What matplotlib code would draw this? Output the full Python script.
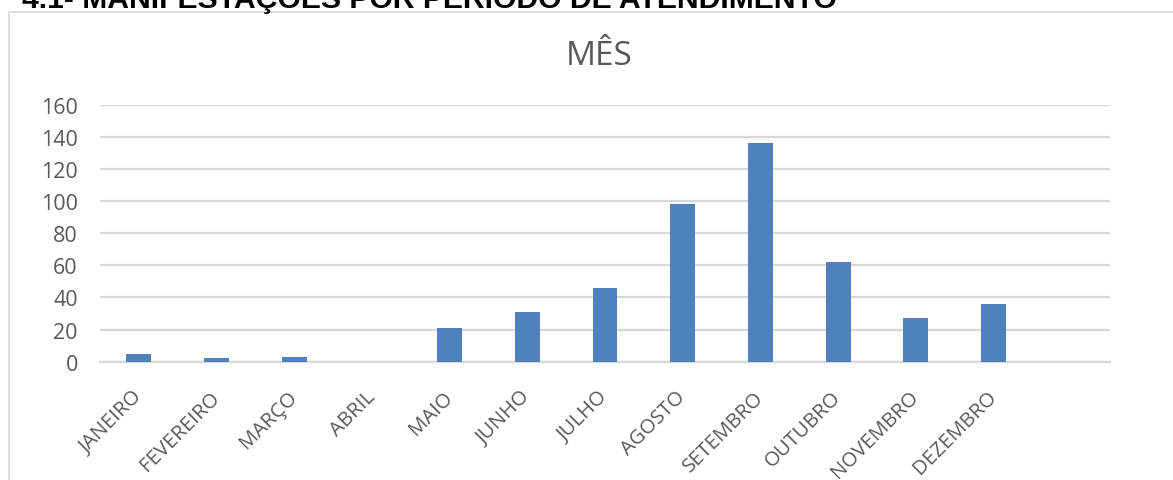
import matplotlib.pyplot as plt
from matplotlib.patches import Rectangle
from matplotlib.transforms import ScaledTranslation

plt.rcParams['font.family'] = ['Open Sans', 'DejaVu Sans']

# Manifestações por mês de atendimento
meses = ['JANEIRO', 'FEVEREIRO', 'MARÇO', 'ABRIL', 'MAIO', 'JUNHO', 'JULHO',
         'AGOSTO', 'SETEMBRO', 'OUTUBRO', 'NOVEMBRO', 'DEZEMBRO', '']
totais = [5, 2, 3, 0, 21, 31, 46, 98, 136, 62, 27, 36, 0]
yticks = [0, 20, 40, 60, 80, 100, 120, 140, 160]

W, H = 1173, 481
fig = plt.figure(figsize=(W / 100, H / 100), dpi=100)

# section heading, partly cut by the page edge
fig.text(22 / W, 1 - 8 / H, '4.1- MANIFESTAÇÕES POR PERÍODO DE ATENDIMENTO',
         family='Liberation Sans', weight='bold', fontsize=21.7,
         ha='left', va='baseline', color='black')

# chart frame
fig.add_artist(Rectangle((9 / W, -0.1), 1.0, 1.1 - 13 / H,
                         transform=fig.transFigure, fill=False,
                         edgecolor='#d9d9d9', lw=1.2))

ax = fig.add_axes([100 / W, 1 - 362.7 / H, (1110 - 100) / W, (362.7 - 105.7) / H])
x = range(len(meses))
ax.bar(x, totais, width=0.32, color='#4f81bd', zorder=3)

ax.set_xlim(-0.5, len(meses) - 0.5)
ax.set_ylim(0, 160)
ax.set_yticks(yticks)
ax.grid(axis='y', color='#d9d9d9', lw=1.6, zorder=0)
for s in ['top', 'right', 'left']:
    ax.spines[s].set_visible(False)
ax.spines['bottom'].set_color('#d9d9d9')
ax.spines['bottom'].set_linewidth(1.6)

ax.set_xticks(list(x))
ax.set_xticklabels(meses, rotation=45, ha='right', va='top',
                   rotation_mode='anchor')
ax.tick_params(axis='x', length=0, pad=18, labelsize=14.7, labelcolor='#595959')
ax.tick_params(axis='y', length=0, pad=16, labelsize=15.5, labelcolor='#595959')
shift = ScaledTranslation(-7 / 100, 0, fig.dpi_scale_trans)
for lbl in ax.get_xticklabels():
    lbl.set_transform(lbl.get_transform() + shift)

fig.text(599 / W, 1 - 57 / H, 'MÊS', fontsize=24, color='#595959',
         ha='center', va='center')

fig.savefig('out.png', dpi=100)
